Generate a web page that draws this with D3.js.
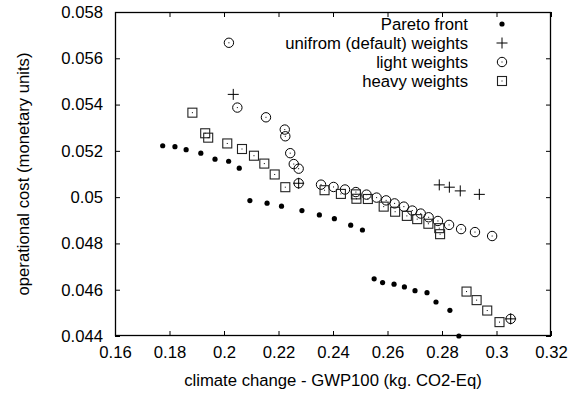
<!DOCTYPE html>
<html><head><meta charset="utf-8">
<script src="https://cdn.jsdelivr.net/npm/d3@7"></script>
<style>body{margin:0;background:#fff}svg{display:block}text{font-family:"Liberation Sans",Arial,sans-serif;fill:#000}</style>
</head><body><svg id="c" width="585" height="395"></svg>
<script>
const xTicks=[0.16,0.18,0.2,0.22,0.24,0.26,0.28,0.3,0.32];
const yTicks=[0.044,0.046,0.048,0.05,0.052,0.054,0.056,0.058];
const legendLabels=["Pareto front","unifrom (default) weights","light weights","heavy weights"];
const paretoX=[0.1775,0.1820,0.1861,0.1915,0.1967,0.2017,0.2056,0.2095,0.2158,0.2211,0.2286,0.2350,0.2405,0.2465,0.2508,0.2551,0.2582,0.2624,0.2662,0.2701,0.2745,0.2778,0.2829,0.2862];
const paretoY=[0.05222,0.05218,0.05205,0.05190,0.05164,0.05155,0.05125,0.04985,0.04974,0.04961,0.04942,0.04923,0.04907,0.04879,0.04858,0.04647,0.04631,0.04624,0.04612,0.04596,0.04587,0.04547,0.04511,0.04400];
const uniformX=[0.2034,0.2274,0.2790,0.2827,0.2867,0.2937,0.3052];
const uniformY=[0.05444,0.05060,0.05053,0.05043,0.05027,0.05012,0.04474];
const lightX=[0.2018,0.2049,0.2154,0.2223,0.2225,0.2243,0.2256,0.2274,0.2274,0.2356,0.2402,0.2444,0.2484,0.2523,0.2560,0.2595,0.2626,0.2660,0.2691,0.2722,0.2751,0.2785,0.2826,0.2870,0.2921,0.2984,0.3052];
const lightY=[0.05667,0.05387,0.05345,0.05292,0.05263,0.05190,0.05143,0.05123,0.05060,0.05054,0.05044,0.05033,0.05022,0.05011,0.04998,0.04986,0.04973,0.04959,0.04942,0.04929,0.04913,0.04897,0.04880,0.04862,0.04849,0.04832,0.04474];
const heavyX=[0.1884,0.1931,0.1942,0.2012,0.2066,0.2110,0.2148,0.2186,0.2225,0.2369,0.2429,0.2484,0.2486,0.2528,0.2586,0.2628,0.2671,0.2709,0.2750,0.2790,0.2793,0.2890,0.2927,0.2966,0.3011];
const heavyY=[0.05365,0.05276,0.05257,0.05232,0.05208,0.05179,0.05145,0.05098,0.05043,0.05030,0.05014,0.05012,0.04993,0.04992,0.04959,0.04937,0.04919,0.04905,0.04885,0.04866,0.04840,0.04592,0.04555,0.04510,0.04460];

const svg=d3.select("#c");
const L=115,R=551,T=12,B=336;
const x=d3.scaleLinear().domain([0.16,0.32]).range([L,R]);
const y=d3.scaleLinear().domain([0.044,0.058]).range([B,T]);
const fs=16.7;
const ink="#000";
const tl=5;
const gx=svg.append("g").attr("transform",`translate(0,${B})`).call(d3.axisBottom(x).tickValues(xTicks).tickSizeInner(-tl).tickSizeOuter(0).tickPadding(10).tickFormat(d3.format("~g")));
const gxt=svg.append("g").attr("transform",`translate(0,${T})`).call(d3.axisTop(x).tickValues(xTicks).tickSizeInner(-tl).tickSizeOuter(0).tickFormat(""));
const gy=svg.append("g").attr("transform",`translate(${L},0)`).call(d3.axisLeft(y).tickValues(yTicks).tickSizeInner(-tl).tickSizeOuter(0).tickPadding(12).tickFormat(d3.format("~g")));
const gyr=svg.append("g").attr("transform",`translate(${R},0)`).call(d3.axisRight(y).tickValues(yTicks).tickSizeInner(-tl).tickSizeOuter(0).tickFormat(""));
[gx,gxt,gy,gyr].forEach(g=>{g.selectAll(".domain").remove();g.selectAll("line").attr("stroke",ink).attr("stroke-width",1);g.selectAll("text").style("font-size",fs+"px").attr("fill",ink).style("font-family",'"Liberation Sans",Arial,sans-serif');});
gx.selectAll("text").attr("dy","0.71em");
svg.append("rect").attr("x",L+0.5).attr("y",T+0.5).attr("width",R-L-1).attr("height",B-T-1).attr("fill","none").attr("stroke",ink).attr("stroke-width",1.3);

svg.append("text").attr("x",(L+R)/2).attr("y",386).attr("text-anchor","middle").style("font-size",fs+"px").text("climate change - GWP100 (kg. CO2-Eq)");
svg.append("text").attr("transform",`translate(23,${(T+B)/2}) rotate(-90)`).attr("dy","0.35em").attr("text-anchor","middle").style("font-size",fs+"px").text("operational cost (monetary units)");

const plot=svg.append("g");
function dot(g,cx,cy){g.append("circle").attr("cx",cx).attr("cy",cy).attr("r",2.6).attr("fill",ink);}
function plus(g,cx,cy){g.append("path").attr("d",`M${cx-5.5},${cy}H${cx+5.5}M${cx},${cy-5.5}V${cy+5.5}`).attr("stroke",ink).attr("stroke-width",1).attr("fill","none");}
function ring(g,cx,cy){g.append("circle").attr("cx",cx).attr("cy",cy).attr("r",4.7).attr("fill","none").attr("stroke",ink).attr("stroke-width",1);g.append("rect").attr("x",cx-0.5).attr("y",cy-0.5).attr("width",1).attr("height",1).attr("fill",ink);}
function sq(g,cx,cy){g.append("rect").attr("x",cx-4.5).attr("y",cy-4.5).attr("width",9).attr("height",9).attr("fill","none").attr("stroke","#222").attr("stroke-width",1.1);g.append("rect").attr("x",cx-0.5).attr("y",cy-0.5).attr("width",1).attr("height",1).attr("fill",ink);}

paretoX.forEach((v,i)=>dot(plot,x(v),y(paretoY[i])));
uniformX.forEach((v,i)=>plus(plot,x(v),y(uniformY[i])));
lightX.forEach((v,i)=>ring(plot,x(v),y(lightY[i])));
heavyX.forEach((v,i)=>sq(plot,x(v),y(heavyY[i])));

const legX=468, symX=502, legY0=24, dyL=19;
const fns=[dot,plus,ring,sq];
legendLabels.forEach((t,i)=>{
  const yy=legY0+i*dyL;
  svg.append("text").attr("x",legX).attr("y",yy).attr("dy","0.35em").attr("text-anchor","end").style("font-size",fs+"px").text(t);
  fns[i](svg,symX,yy);
});
</script></body></html>
